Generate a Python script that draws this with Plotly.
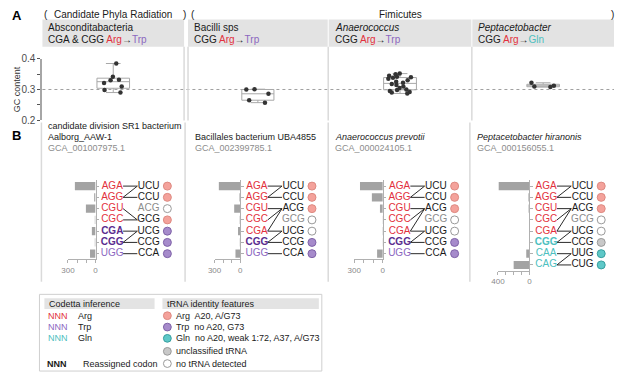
import plotly.graph_objects as go

W, H = 617, 378
def px(x): return x / W
def py(y): return 1 - y / H

FONT = "Liberation Sans, Arial, sans-serif"
RED = "#E2313D"; PURPLE = "#8B67BF"; PURPLE_B = "#5A2C8E"; TEAL = "#4DC0C0"
DARK = "#1A1A1A"; GRAYTXT = "#8C8C8C"

# ---------------- Panel A data ----------------
group_names = ["Absconditabacteria", "Bacilli sps", "<i>Anaerococcus</i>", "<i>Peptacetobacter</i>"]
group_codons = ["CGA & CGG", "CGG", "CGG", "CGG"]
group_from = ["Arg", "Arg", "Arg", "Arg"]
group_to = ["Trp", "Trp", "Trp", "Gln"]
gc_absconditabacteria = [0.385, 0.342, 0.332, 0.330, 0.321, 0.310, 0.298, 0.290]
gc_bacilli = [0.301, 0.300, 0.286, 0.265, 0.257]
gc_anaerococcus = [0.352, 0.350, 0.345, 0.342, 0.340, 0.338, 0.335, 0.330, 0.325, 0.322,
                   0.318, 0.315, 0.310, 0.305, 0.300, 0.298, 0.295, 0.292, 0.290, 0.287]
gc_peptacetobacter = [0.322, 0.312, 0.310, 0.308]
gc_values = [gc_absconditabacteria, gc_bacilli, gc_anaerococcus, gc_peptacetobacter]
gc_ticks = [0.2, 0.25, 0.3, 0.35, 0.4]
gc_ticktext = ["0.2", "", "0.3", "", "0.4"]
gc_reference = 0.3

# ---------------- Panel B data ----------------
species = [["candidate division SR1 bacterium", "Aalborg_AAW-1"],
           ["Bacillales bacterium UBA4855"],
           ["<i>Anaerococcus prevotii</i>"],
           ["<i>Peptacetobacter hiranonis</i>"]]
accessions = ["GCA_001007975.1", "GCA_002399785.1", "GCA_000024105.1", "GCA_000156055.1"]

codons_sr1 = ["AGA", "AGG", "CGU", "CGC", "CGA", "CGG", "UGG"]
counts_sr1 = [225, 15, 105, 8, 40, 8, 60]
codon_cls_sr1 = ["Arg", "Arg", "Arg", "Arg", "TrpR", "TrpR", "Trp"]
trnas_sr1 = ["UCU", "CCU", "ACG", "GCG", "UCG", "CCG", "CCA"]
trna_cls_sr1 = ["Arg", "Arg", "none", "Arg", "Trp", "Trp", "Trp"]
links_sr1 = [(0, 0), (1, 0), (1, 1), (2, 3), (3, 3), (4, 4), (5, 4), (5, 5), (6, 6)]

codons_bac = ["AGA", "AGG", "CGU", "CGC", "CGA", "CGG", "UGG"]
counts_bac = [250, 8, 70, 5, 25, 4, 55]
codon_cls_bac = ["Arg", "Arg", "Arg", "Arg", "Arg", "TrpR", "Trp"]
trnas_bac = ["UCU", "CCU", "ACG", "GCG", "UCG", "CCG", "CCA"]
trna_cls_bac = ["Arg", "Arg", "Arg", "none", "none", "Trp", "Trp"]
links_bac = [(0, 0), (1, 0), (1, 1), (2, 2), (3, 2), (4, 2), (4, 4), (5, 4), (5, 5), (6, 6)]

codons_ana = ["AGA", "AGG", "CGU", "CGC", "CGA", "CGG", "UGG"]
counts_ana = [240, 115, 30, 2, 3, 2, 60]
codon_cls_ana = ["Arg", "Arg", "Arg", "Arg", "Arg", "TrpR", "Trp"]
trnas_ana = ["UCU", "CCU", "ACG", "GCG", "UCG", "CCG", "CCA"]
trna_cls_ana = ["Arg", "Arg", "Arg", "none", "none", "Trp", "Trp"]
links_ana = [(0, 0), (1, 0), (1, 1), (2, 2), (3, 2), (4, 2), (4, 4), (5, 4), (5, 5), (6, 6)]

codons_pep = ["AGA", "AGG", "CGU", "CGC", "CGA", "CGG", "CAA", "CAG"]
counts_pep = [390, 12, 10, 2, 3, 5, 40, 200]
codon_cls_pep = ["Arg", "Arg", "Arg", "Arg", "Arg", "GlnR", "Gln", "Gln"]
trnas_pep = ["UCU", "CCU", "ACG", "GCG", "UCG", "CCG", "UUG", "CUG"]
trna_cls_pep = ["Arg", "Arg", "Arg", "none", "none", "uncl", "Gln", "Gln"]
links_pep = [(0, 0), (1, 0), (1, 1), (2, 2), (3, 2), (4, 2), (4, 4), (5, 4), (5, 5),
             (6, 6), (7, 6), (7, 7)]

count_max = [300, 300, 300, 400]
count_ticks = [[0, 100, 200, 300], [0, 100, 200, 300], [0, 100, 200, 300], [0, 100, 200, 300, 400]]

panelsB = [
    (codons_sr1, counts_sr1, codon_cls_sr1, trnas_sr1, trna_cls_sr1, links_sr1),
    (codons_bac, counts_bac, codon_cls_bac, trnas_bac, trna_cls_bac, links_bac),
    (codons_ana, counts_ana, codon_cls_ana, trnas_ana, trna_cls_ana, links_ana),
    (codons_pep, counts_pep, codon_cls_pep, trnas_pep, trna_cls_pep, links_pep),
]

# ---------------- styles ----------------
codon_style = {"Arg": (RED, False), "Trp": (PURPLE, False), "TrpR": (PURPLE_B, True),
               "Gln": (TEAL, False), "GlnR": (TEAL, True)}
dot_style = {"Arg": ("#F4A29B", "#DE8A82"), "Trp": ("#A68BCB", "#7F62A8"),
             "Gln": ("#5EC8C8", "#379F9F"), "uncl": ("#C8C8C8", "#9A9A9A"),
             "none": ("#FFFFFF", "#9A9A9A")}
X_CODON, X_L0, X_L1, X_TRNA, X_DOT = 17, 28, 42.5, 54, 73

fig = go.Figure()
annotations = []
shapes = []

def ann(x, y, text, size=10, color=DARK, xanchor="left", yanchor="middle", **kw):
    annotations.append(dict(x=px(x), y=py(y), xref="paper", yref="paper", text=text,
                            showarrow=False, xanchor=xanchor, yanchor=yanchor,
                            font=dict(size=size, color=color, family=FONT), **kw))

def rect(x0, y0, x1, y1, fill="#E3E3E3", line=None, lw=0):
    shapes.append(dict(type="rect", xref="paper", yref="paper", x0=px(x0), x1=px(x1),
                       y0=py(y1), y1=py(y0), fillcolor=fill, layer="below",
                       line=dict(width=lw, color=line or fill)))

def vline(x, y0, y1, color="#DADADA", w=1.5):
    shapes.append(dict(type="line", xref="paper", yref="paper", x0=px(x), x1=px(x),
                       y0=py(y0), y1=py(y1), line=dict(color=color, width=w), layer="below"))

# ---------------- Panel A ----------------
A_dom = [(36, 180), (184, 326), (327, 472), (473, 617)]
A_ytop, A_ybot = 54.5, 117.5
layout_axes = {}
for i, (vals, (x0, x1)) in enumerate(zip(gc_values, A_dom)):
    k = "" if i == 0 else str(i + 1)
    xs = [group_names[i]] * len(vals)
    fig.add_trace(go.Box(y=vals, x=xs, xaxis="x" + k, yaxis="y" + k,
                         boxpoints="outliers", width=0.23, quartilemethod="inclusive",
                         whiskerwidth=0.45, fillcolor="rgba(255,255,255,0)",
                         line=dict(color="#A8A8A8", width=1),
                         marker=dict(color="rgba(0,0,0,0)", size=5),
                         showlegend=False, hoverinfo="skip"))
    fig.add_trace(go.Box(y=vals, x=xs, xaxis="x" + k, yaxis="y" + k,
                         boxpoints="all", jitter=0.85, pointpos=0, width=0.23,
                         fillcolor="rgba(0,0,0,0)", line=dict(color="rgba(0,0,0,0)", width=0),
                         marker=dict(color="#333333", size=4.5), showlegend=False, hoverinfo="skip"))
    layout_axes["xaxis" + k] = dict(domain=[px(x0), px(x1)], anchor="y" + k, type="category",
                                    range=[-0.5, 0.5], showticklabels=False, showline=False,
                                    showgrid=False, zeroline=False, ticks="")
    ya = dict(domain=[py(A_ybot), py(A_ytop)], anchor="x" + k, range=[0.2, 0.4],
              showgrid=False, zeroline=False)
    if i == 0:
        ya.update(showline=True, linecolor="#A6A6A6", linewidth=2, ticks="outside", ticklen=3,
                  tickcolor="#555", tickvals=gc_ticks, ticktext=gc_ticktext,
                  tickfont=dict(size=10, color="#4D4D4D", family=FONT))
    else:
        ya.update(matches="y", visible=False)
    layout_axes["yaxis" + k] = ya
    rect(x0, 14, x1, 42)
    ann(x0 + 4, 22, group_names[i])
    tcol = TEAL if group_to[i] == "Gln" else PURPLE
    ann(x0 + 4, 35, f'{group_codons[i]} <span style="color:{RED}">{group_from[i]}</span>'
                   f'→<span style="color:{tcol}">{group_to[i]}</span>')

shapes.append(dict(type="line", xref="paper", yref="y", x0=px(36), x1=1, y0=gc_reference,
                   y1=gc_reference, line=dict(color="#A0A0A0", width=1, dash="dot"), layer="below"))
for xv in (180, 184, 326.5, 472.5):
    vline(xv, 42, 118)

ann(3, 10, "<b>A</b>", size=13, color="#000")
ann(36, 9, "(", size=10)
ann(108, 9, "Candidate Phyla Radiation", size=10, xanchor="center")
ann(177, 9, ")", size=10)
ann(185, 9, "(", size=10)
ann(400, 9, "Fimicutes", size=10, xanchor="center")
ann(612, 9, ")", size=10)
annotations.append(dict(x=px(11), y=py(86), xref="paper", yref="paper", text="GC content",
                        showarrow=False, textangle=-90, xanchor="center", yanchor="middle",
                        font=dict(size=9, color="#333", family=FONT)))

# ---------------- Panel B ----------------
ann(3, 133, "<b>B</b>", size=13, color="#000")
B_left = [40, 189, 331, 476]
B_axis = [90, 237, 382, 531]
B_span = [28, 26, 29, 32]
ROW0, ROWH = 185.5, 11.6
OVW = 80
for xv in (35, 181, 326.5, 470.5):
    vline(xv, 120, 284)

for i, (cods, cnts, ccls, trs, tcls, lks) in enumerate(panelsB):
    n = len(cods)
    xb, xo, yb = 5 + i, 9 + i, 5 + i
    top = ROW0 - ROWH / 2
    bot = top + n * ROWH
    ax = B_axis[i]
    fig.add_trace(go.Bar(x=cnts, y=list(range(n)), orientation="h", xaxis=f"x{xb}", yaxis=f"y{yb}",
                         marker=dict(color="#A3A3A3", line=dict(width=0)), width=0.72,
                         showlegend=False, hoverinfo="skip"))
    cm = count_max[i]
    layout_axes[f"xaxis{xb}"] = dict(domain=[px(ax - B_span[i]), px(ax)], anchor=f"y{yb}",
                                     range=[cm, 0], showgrid=False, zeroline=False, showline=True,
                                     linecolor="#B0B0B0", linewidth=1, ticks="outside", ticklen=3,
                                     tickcolor="#B0B0B0", tickvals=count_ticks[i],
                                     ticktext=[str(t) if t in (0, cm) else "" for t in count_ticks[i]],
                                     tickfont=dict(size=8, color="#8A8A8A", family=FONT))
    layout_axes[f"yaxis{yb}"] = dict(domain=[py(bot), py(top)], anchor=f"x{xb}", side="right",
                                     range=[n - 0.5, -0.5], showgrid=False, zeroline=False,
                                     showline=True, linecolor="#B0B0B0", linewidth=1,
                                     ticks="outside", ticklen=2.5, tickcolor="#B0B0B0",
                                     tickvals=list(range(n)), showticklabels=False)
    layout_axes[f"xaxis{xo}"] = dict(domain=[px(ax), px(ax + OVW)], anchor=f"y{yb}",
                                     range=[0, OVW], visible=False)
    lx, ly = [], []
    for c, t in lks:
        lx += [X_L0, X_L1, None]
        ly += [c, t, None]
    fig.add_trace(go.Scatter(x=lx, y=ly, mode="lines", xaxis=f"x{xo}", yaxis=f"y{yb}",
                             line=dict(color="#2A2A2A", width=1), showlegend=False,
                             hoverinfo="skip", cliponaxis=False))
    ctext = [f"<b>{c}</b>" if codon_style[k][1] else c for c, k in zip(cods, ccls)]
    fig.add_trace(go.Scatter(x=[X_CODON] * n, y=list(range(n)), mode="text", text=ctext,
                             textfont=dict(size=10, family=FONT, color=[codon_style[k][0] for k in ccls]),
                             xaxis=f"x{xo}", yaxis=f"y{yb}", showlegend=False, hoverinfo="skip",
                             cliponaxis=False))
    linked = {t for _, t in lks}
    fig.add_trace(go.Scatter(x=[X_TRNA] * n, y=list(range(n)), mode="text", text=trs,
                             textfont=dict(size=10, family=FONT,
                                           color=[DARK if j in linked else GRAYTXT for j in range(n)]),
                             xaxis=f"x{xo}", yaxis=f"y{yb}", showlegend=False, hoverinfo="skip",
                             cliponaxis=False))
    fig.add_trace(go.Scatter(x=[X_DOT] * n, y=list(range(n)), mode="markers",
                             marker=dict(size=8, color=[dot_style[k][0] for k in tcls],
                                         line=dict(width=1, color=[dot_style[k][1] for k in tcls])),
                             xaxis=f"x{xo}", yaxis=f"y{yb}", showlegend=False, hoverinfo="skip",
                             cliponaxis=False))
    annotations.append(dict(x=X_CODON, y=-1.25, xref=f"x{xo}", yref=f"y{yb}", text="codon",
                            showarrow=False, font=dict(size=9, color=DARK, family=FONT)))
    annotations.append(dict(x=X_TRNA, y=-1.25, xref=f"x{xo}", yref=f"y{yb}", text="tRNA",
                            showarrow=False, font=dict(size=9, color=DARK, family=FONT)))
    lines = species[i] + [accessions[i]]
    y0 = 146 - 11 * (len(lines) - 1)
    for j, t in enumerate(lines):
        ann(B_left[i], y0 + 11 * j, t, size=9, color=GRAYTXT if j == len(lines) - 1 else DARK)

# ---------------- Legend ----------------
rect(33, 297, 320, 376, fill="rgba(0,0,0,0)", line="#CFCFCF", lw=1)
rect(38, 301, 150, 312)
rect(158, 301, 317, 312)
ann(41, 306.5, "Codetta inference", size=9)
ann(161, 306.5, "tRNA identity features", size=9)
leg_codon = [("NNN", RED, "Arg"), ("NNN", PURPLE, "Trp"), ("NNN", TEAL, "Gln")]
leg_rows = [319, 330.7, 342.3, 355.7, 368.3]
for (t, c, lab), yy in zip(leg_codon, leg_rows):
    ann(40, yy, t, size=9, color=c)
    ann(70, yy, lab, size=9)
ann(39, leg_rows[4], "<b>NNN</b>", size=9)
ann(75, leg_rows[4], "Reassigned codon", size=9)
leg_trna = [("Arg", "Arg  A20, A/G73"), ("Trp", "Trp  no A20, G73"),
            ("Gln", "Gln  no A20, weak 1:72, A37, A/G73"), ("uncl", "unclassified tRNA"),
            ("none", "no tRNA detected")]
for (k, lab), yy in zip(leg_trna, leg_rows):
    shapes.append(dict(type="circle", xref="paper", yref="paper", x0=px(159), x1=px(167),
                       y0=py(yy + 4), y1=py(yy - 4), fillcolor=dot_style[k][0],
                       line=dict(color=dot_style[k][1], width=1)))
    ann(170, yy, lab, size=9)

fig.update_layout(width=W, height=H, margin=dict(l=0, r=0, t=0, b=0),
                  paper_bgcolor="white", plot_bgcolor="rgba(0,0,0,0)", boxmode="overlay",
                  font=dict(family=FONT, size=10, color=DARK), hovermode=False,
                  annotations=annotations, shapes=shapes, showlegend=False, **layout_axes)
fig.write_html("out.html", config={"displayModeBar": False, "staticPlot": True},
               post_script="document.body.style.margin='0';document.body.style.overflow='hidden';")
